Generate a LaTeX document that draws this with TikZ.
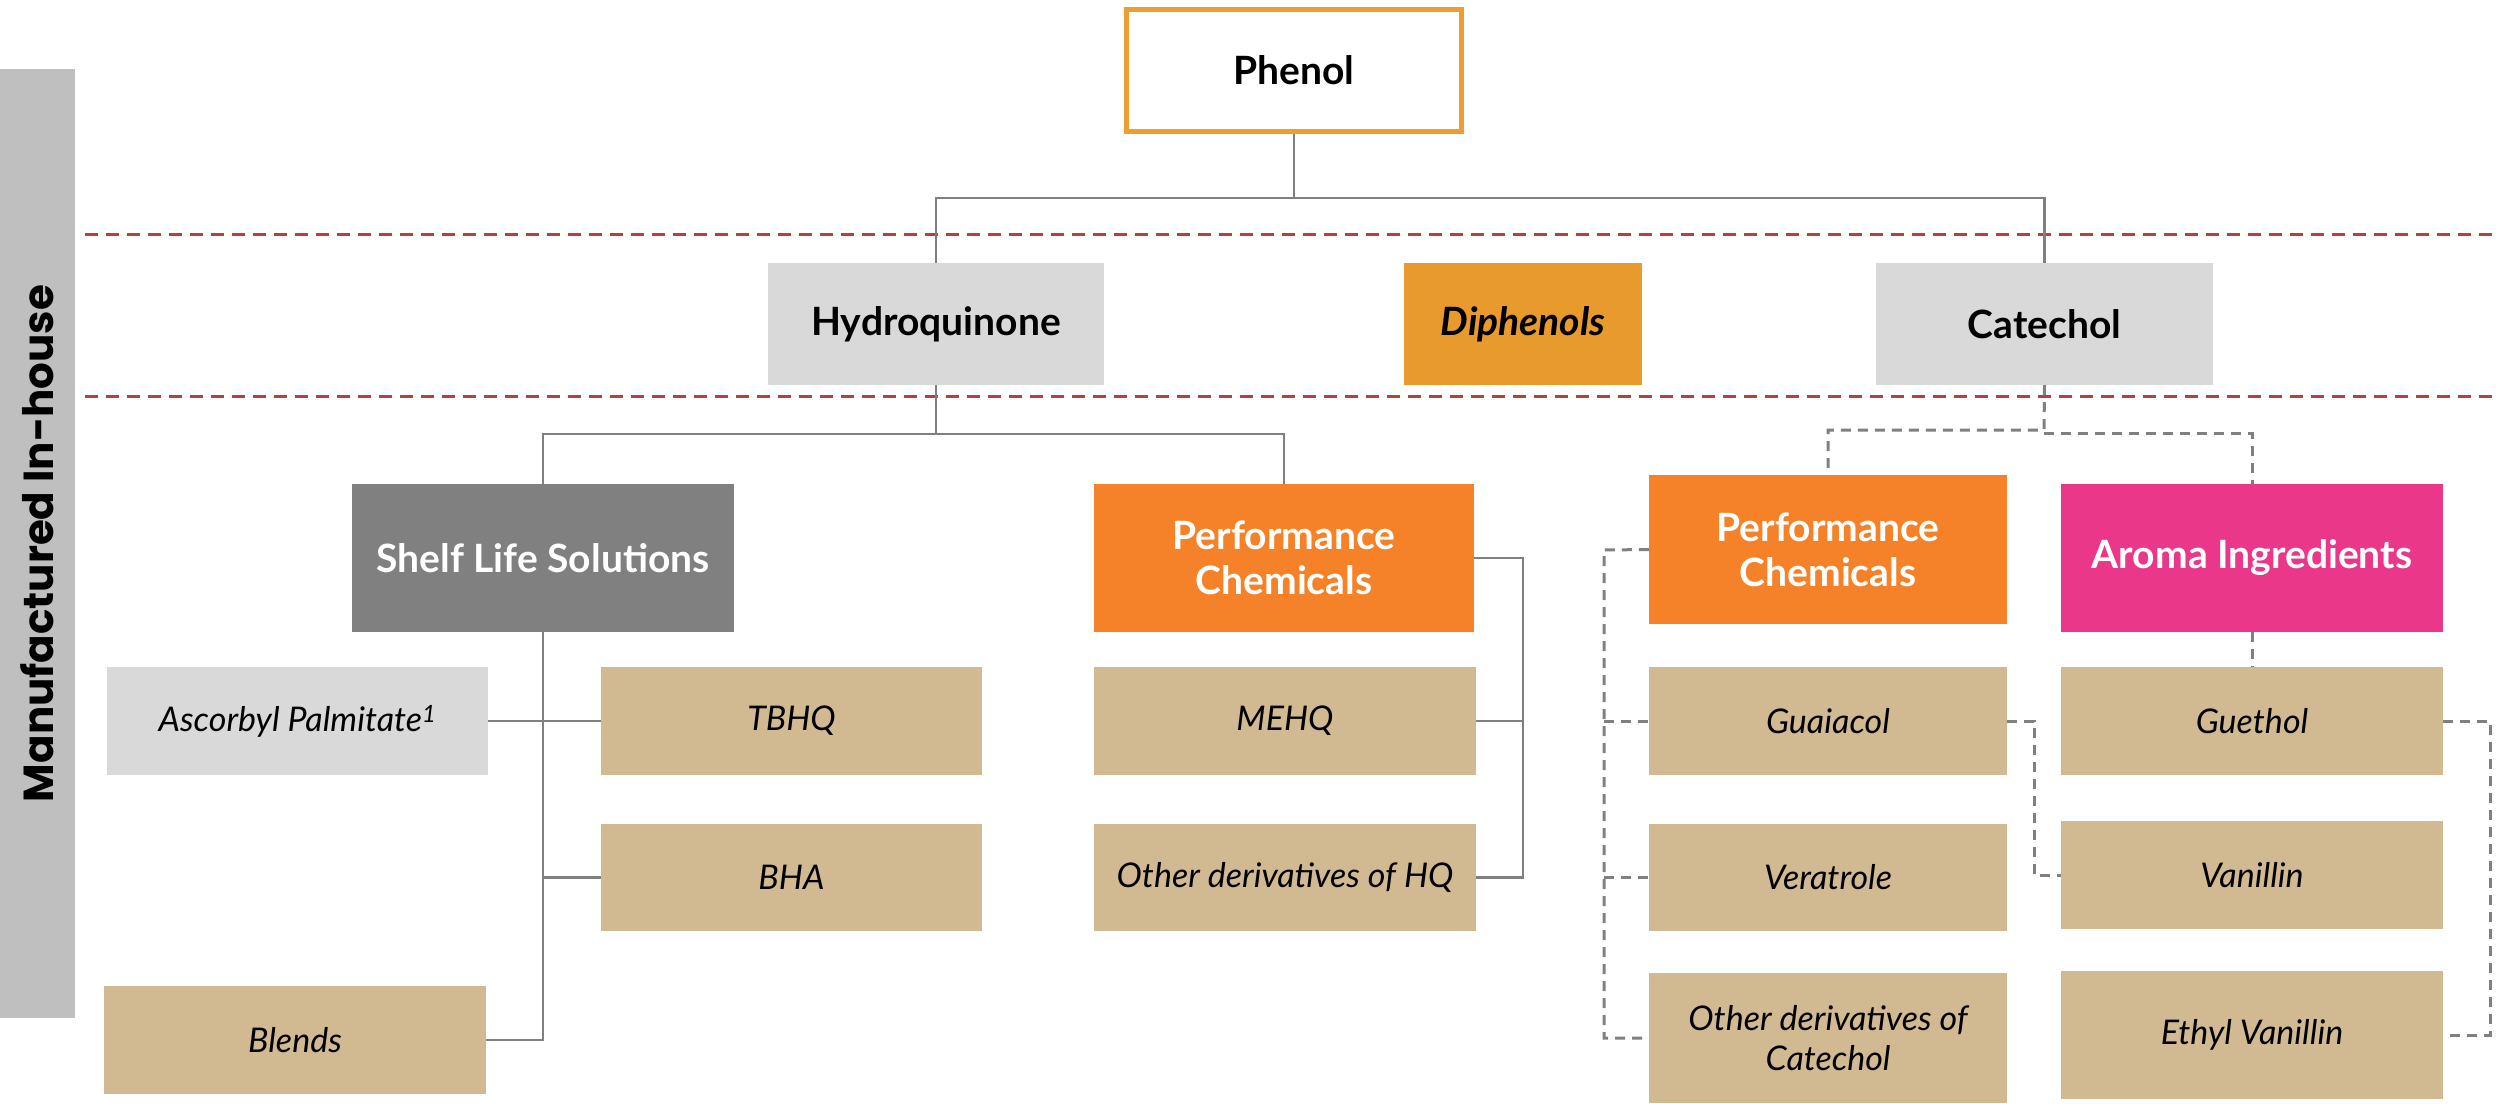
\documentclass[tikz,border=0pt]{standalone}
\usepackage{fontspec}
\setmainfont{Lato}
\newfontfamily\sidefont{Poppins}
\definecolor{phenolor}{HTML}{EE9D32}
\definecolor{lgray}{HTML}{D9D9D9}
\definecolor{dipor}{HTML}{E99A2C}
\definecolor{slsgray}{HTML}{808080}
\definecolor{pcor}{HTML}{F58228}
\definecolor{aromapk}{HTML}{EB3789}
\definecolor{tan}{HTML}{D1BA92}
\definecolor{sidegray}{HTML}{BFBFBF}
\definecolor{reddash}{HTML}{B0443C}
\definecolor{conncol}{HTML}{808080}
\begin{document}
\begin{tikzpicture}[x=1pt,y=-1pt,
  bx/.style={rectangle, inner sep=0pt, align=center, font=\fontsize{39}{45}\selectfont},
  hdr/.style={bx, fill=lgray, minimum height=122pt, font=\fontsize{39}{45}\selectfont\bfseries},
  cat/.style={bx, minimum height=148pt, text=white, font=\fontsize{39}{45}\selectfont\bfseries},
  tanbox/.style={bx, fill=tan, minimum height=108pt, font=\fontsize{34}{40}\selectfont\itshape},
  conn/.style={draw=conncol, line width=2.5pt},
  dconn/.style={draw=conncol, line width=3pt, dash pattern=on 10pt off 7pt},
  sep/.style={draw=reddash, line width=3pt, dash pattern=on 13pt off 8pt}
]
\useasboundingbox (0,0) rectangle (2496,1103);
\fill[white] (0,0) rectangle (2496,1103);

% sidebar
\node[rectangle, fill=sidegray, inner sep=0pt, minimum width=75pt, minimum height=949pt] (side) at (37.5,543.5) {};
\node[rotate=90, font=\sidefont\bfseries\fontsize{42}{48}\selectfont] (sidetxt) at (side.center) {Manufactured In-house};

% separators
\coordinate (s1a) at (85,234); \coordinate (s1b) at (2496,234);
\coordinate (s2a) at (85,396); \coordinate (s2b) at (2496,396);
\draw[sep] (s1a) -- (s1b);
\draw[sep] (s2a) -- (s2b);

% top level
\node[bx, draw=phenolor, fill=white, line width=5pt, minimum width=335pt, minimum height=122pt, font=\fontsize{39}{45}\selectfont\bfseries] (phenol) at (1294,70.5) {Phenol};
\node[hdr, minimum width=336pt] (hq) at (936,324) {Hydroquinone};
\node[hdr, fill=dipor, minimum width=238pt, font=\fontsize{39}{45}\selectfont\bfseries\itshape] (diph) at (1523,324) {Diphenols};
\node[hdr, minimum width=337pt] (catechol) at (2044.5,324) {Catechol};

% categories
\node[cat, fill=slsgray, minimum width=382pt] (sls) at (543,558) {Shelf Life Solutions};
\node[cat, fill=pcor, minimum width=380pt] (pc1) at (1284,558) {Performance\\Chemicals};
\node[cat, fill=pcor, minimum width=358pt, minimum height=149pt] (pc2) at (1828,549.5) {Performance\\Chemicals};
\node[cat, fill=aromapk, minimum width=382pt] (aroma) at (2252,558) {Aroma Ingredients};

% products
\node[tanbox, fill=lgray, minimum width=381pt] (asc) at (297.5,721) {Ascorbyl Palmitate\textsuperscript{1}};
\node[tanbox, minimum width=381pt] (tbhq) at (791.5,721) {TBHQ};
\node[tanbox, minimum width=381pt, minimum height=107pt] (bha) at (791.5,877.5) {BHA};
\node[tanbox, minimum width=382pt] (blends) at (295,1040) {Blends};
\node[tanbox, minimum width=382pt] (mehq) at (1285,721) {MEHQ};
\node[tanbox, minimum width=382pt, minimum height=107pt] (odhq) at (1285,877.5) {Other derivatives of HQ};
\node[tanbox, minimum width=358pt] (guai) at (1828,721) {Guaiacol};
\node[tanbox, minimum width=358pt, minimum height=107pt] (vera) at (1828,877.5) {Veratrole};
\node[tanbox, minimum width=358pt, minimum height=130pt] (odcat) at (1828,1038) {Other derivatives of\\Catechol};
\node[tanbox, minimum width=382pt] (gueth) at (2252,721) {Guethol};
\node[tanbox, minimum width=382pt] (van) at (2252,875) {Vanillin};
\node[tanbox, minimum width=382pt, minimum height=128pt] (ethv) at (2252,1035) {Ethyl Vanillin};

% phenol connectors
\coordinate (jp) at (1294,198);
\draw[conn] (phenol.south) -- (jp) -| (hq.north);
\draw[conn] (jp) -| (catechol.north);

% hydroquinone connectors
\coordinate (jh) at (936,434);
\draw[conn] (hq.south) -- (jh) -| (sls.north);
\draw[conn] (jh) -| (pc1.north);

% shelf life solutions
\draw[conn] (sls.south) |- (blends.east);
\draw[conn] (asc.east) -- (tbhq.west);
\draw[conn] (sls.south |- bha.west) -- (bha.west);

% performance chemicals HQ
\coordinate (jpc1) at (1523,558);
\draw[conn] (pc1.east) -- (jpc1) |- (odhq.east);
\draw[conn] (mehq.east) -- (mehq.east -| jpc1);

% catechol dashed
\coordinate (jc1) at (2044,430);
\coordinate (jc2) at (2044,433);
\draw[dconn] (catechol.south) -- (jc1) -| (pc2.north);
\draw[dconn] (jc2) -| (aroma.north);

% performance chemicals catechol
\coordinate (jpc2) at (1604,550);
\draw[dconn] (pc2.west) -- (jpc2) |- (odcat.west);
\draw[dconn] (jpc2 |- guai.west) -- (guai.west);
\draw[dconn] (jpc2 |- vera.west) -- (vera.west);

% aroma
\draw[dconn] (aroma.south) -- (gueth.north);
\coordinate (jg) at (2034,721);
\draw[dconn] (guai.east) -- (jg) |- (van.west);
\coordinate (je) at (2490,721);
\draw[dconn] (gueth.east) -- (je) |- (ethv.east);
\end{tikzpicture}
\end{document}
